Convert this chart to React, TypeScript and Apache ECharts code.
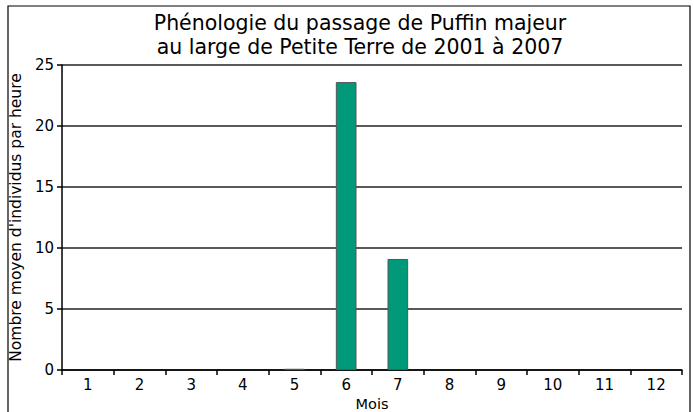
import React, { useEffect, useRef } from "react";
import * as echarts from "echarts";

const months = ["1", "2", "3", "4", "5", "6", "7", "8", "9", "10", "11", "12"];
const values = [0, 0, 0, 0, 0.1, 23.6, 9.1, 0, 0, 0, 0, 0];
const titleLines = ["Phénologie du passage de Puffin majeur", "au large de Petite Terre de 2001 à 2007"];
const yAxisName = "Nombre moyen d'individus par heure";
const xAxisName = "Mois";

const FONT = "'DejaVu Sans', 'Noto Sans', sans-serif";

export default function App() {
  const ref = useRef<HTMLDivElement>(null);
  useEffect(() => {
    if (!ref.current) return;
    const chart = echarts.init(ref.current, null, { renderer: "svg" });
    chart.setOption({
      animation: false,
      backgroundColor: "#ffffff",
      title: {
        text: titleLines.join("\n"),
        left: 355,
        textAlign: "center",
        top: 6,
        textStyle: { fontFamily: FONT, fontSize: 20.5, fontWeight: "normal", color: "#000", lineHeight: 24 },
      },
      graphic: [
        {
          type: "rect",
          shape: { x: 8, y: 6, width: 682, height: 420 },
          style: { fill: "none", stroke: "#000", lineWidth: 1.2 },
          silent: true,
        },
      ],
      grid: { left: 62, right: 12, top: 65, bottom: 42, containLabel: false, outerBoundsMode: "none" },
      xAxis: {
        type: "category",
        data: months,
        name: xAxisName,
        nameLocation: "middle",
        nameGap: 25,
        nameTextStyle: { fontFamily: FONT, fontSize: 14.5, color: "#000" },
        axisLine: { lineStyle: { color: "#000", width: 1.5 } },
        axisTick: { show: true, alignWithLabel: false, length: 5, lineStyle: { color: "#000", width: 1.5 } },
        axisLabel: { fontFamily: FONT, fontSize: 15, color: "#000", margin: 7 },
      },
      yAxis: {
        type: "value",
        min: 0,
        max: 25,
        interval: 5,
        name: yAxisName,
        nameLocation: "middle",
        nameGap: 37,
        nameTextStyle: { fontFamily: FONT, fontSize: 15.5, color: "#000" },
        axisLine: { show: true, lineStyle: { color: "#000", width: 1.5 } },
        axisTick: { show: true, length: 5, lineStyle: { color: "#000", width: 1.5 } },
        axisLabel: { fontFamily: FONT, fontSize: 15, color: "#000", margin: 8 },
        splitLine: { show: true, lineStyle: { color: "#222", width: 1.5 } },
      },
      series: [
        {
          type: "bar",
          data: values.map((v) => (v === 0 ? null : v)),
          barWidth: "40%",
          itemStyle: { color: "#009a7a", borderColor: "#555", borderWidth: 1 },
        },
      ],
    });
    return () => chart.dispose();
  }, []);
  return <div ref={ref} style={{ position: "fixed", left: 0, top: 0, width: 694, height: 412 }} />;
}
